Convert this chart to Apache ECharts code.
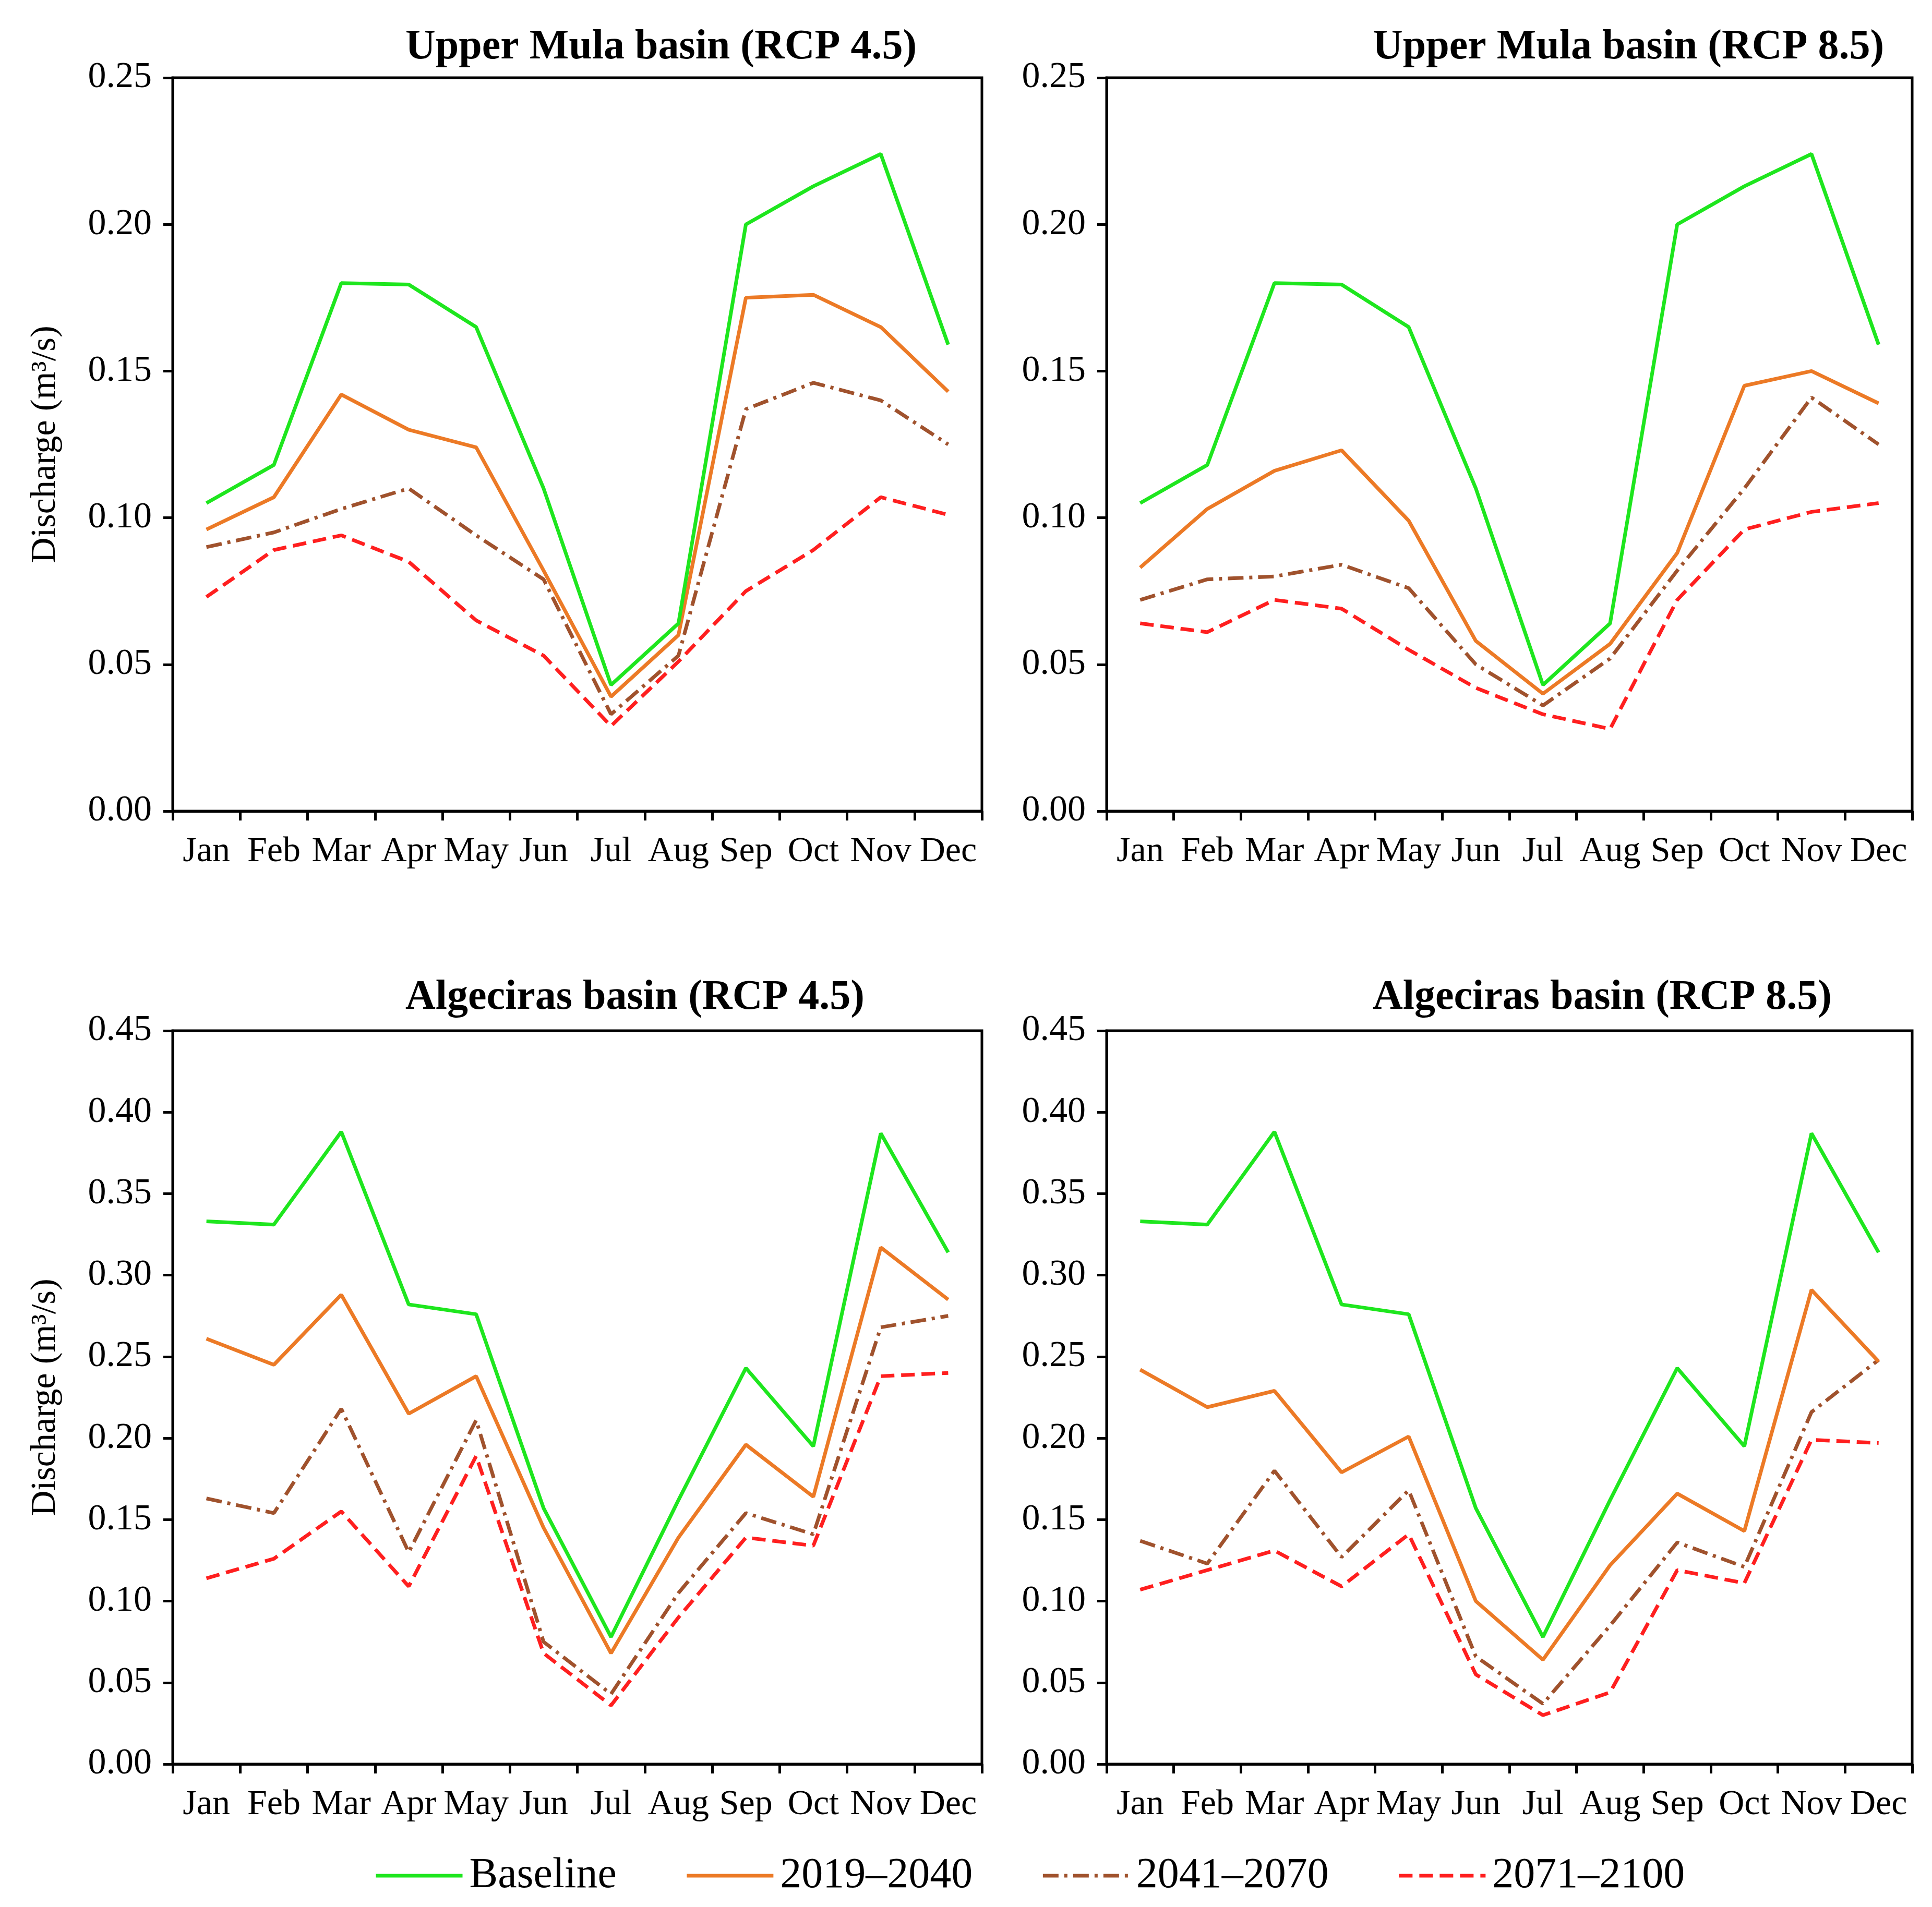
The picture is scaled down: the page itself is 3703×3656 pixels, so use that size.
<!DOCTYPE html>
<html>
<head>
<meta charset="utf-8">
<script src="https://cdn.jsdelivr.net/npm/echarts@6/dist/echarts.min.js"></script>
<style>
html,body{margin:0;padding:0;background:#fff;}
#chart{width:3703px;height:3656px;}
</style>
</head>
<body>
<div id="chart"></div>
<script>
const months = ['Jan','Feb','Mar','Apr','May','Jun','Jul','Aug','Sep','Oct','Nov','Dec'];
const seriesNames = ['Baseline','2019\u20132040','2041\u20132070','2071\u20132100'];
const panelTitles = ['Upper Mula basin (RCP 4.5)','Upper Mula basin (RCP 8.5)','Algeciras basin (RCP 4.5)','Algeciras basin (RCP 8.5)'];
const mulaTicks = [0, 0.25, 0.05];
const algeTicks = [0, 0.45, 0.05];

// Upper Mula basin
const mulaBaseline   = [0.105,0.118,0.180,0.1795,0.165,0.110,0.043,0.064,0.200,0.213,0.224,0.159];
const mula45_2019    = [0.096,0.107,0.142,0.130,0.124,0.082,0.039,0.060,0.175,0.176,0.165,0.143];
const mula45_2041    = [0.090,0.095,0.103,0.110,0.094,0.079,0.033,0.053,0.137,0.146,0.140,0.125];
const mula45_2071    = [0.073,0.089,0.094,0.085,0.065,0.053,0.029,0.051,0.075,0.089,0.107,0.101];
const mula85_2019    = [0.083,0.103,0.116,0.123,0.099,0.058,0.040,0.057,0.088,0.145,0.150,0.139];
const mula85_2041    = [0.072,0.079,0.080,0.084,0.076,0.050,0.036,0.052,0.082,0.110,0.141,0.125];
const mula85_2071    = [0.064,0.061,0.072,0.069,0.055,0.042,0.033,0.028,0.072,0.096,0.102,0.105];

// Algeciras basin
const algeBaseline   = [0.333,0.331,0.388,0.282,0.276,0.157,0.078,0.162,0.243,0.195,0.387,0.314];
const alge45_2019    = [0.261,0.245,0.288,0.215,0.238,0.145,0.068,0.139,0.196,0.164,0.317,0.285];
const alge45_2041    = [0.163,0.154,0.218,0.130,0.211,0.075,0.043,0.105,0.154,0.141,0.268,0.275];
const alge45_2071    = [0.114,0.126,0.155,0.109,0.189,0.068,0.036,0.090,0.139,0.134,0.238,0.240];
const alge85_2019    = [0.242,0.219,0.229,0.179,0.201,0.100,0.064,0.122,0.166,0.143,0.291,0.247];
const alge85_2041    = [0.137,0.123,0.180,0.127,0.168,0.066,0.037,0.085,0.136,0.121,0.216,0.248];
const alge85_2071    = [0.107,0.119,0.131,0.109,0.141,0.055,0.030,0.044,0.119,0.111,0.199,0.197];

const panelData = [
  [mulaBaseline, mula45_2019, mula45_2041, mula45_2071],
  [mulaBaseline, mula85_2019, mula85_2041, mula85_2071],
  [algeBaseline, alge45_2019, alge45_2041, alge45_2071],
  [algeBaseline, alge85_2019, alge85_2041, alge85_2071]
];
const panelTicks = [mulaTicks, mulaTicks, algeTicks, algeTicks];

const FONT = '"Liberation Serif","Times New Roman",serif';
const colors = ['#1ee61e','#ec7a26','#a0522d','#ff1f1f'];
const lineTypes = ['solid','solid',[30,11,6,11],[26,13]];

const grids = [
  {left:331, top:149, width:1551, height:1406},
  {left:2121, top:149, width:1544, height:1406},
  {left:331, top:1976, width:1551, height:1406},
  {left:2121, top:1976, width:1544, height:1406}
];
const titlePos = [[772,46],[2626,46],[772,1868],[2626,1868]];

const option = {
  backgroundColor:'#ffffff',
  animation:false,
  title: panelTitles.map((t,i)=>({
    text:t, left:titlePos[i][0], top:titlePos[i][1],
    textStyle:{fontFamily:FONT, fontWeight:'bold', fontSize:80, color:'#000'}
  })),
  legend:{
    data:seriesNames,
    left:712, top:3550,
    itemWidth:166, itemHeight:12, itemGap:131,
    itemStyle:{opacity:0},
    lineStyle:{width:7},
    textStyle:{fontFamily:FONT, fontSize:82, color:'#000', padding:[0,0,0,8]}
  },
  grid: grids.map(g=>Object.assign({show:true, borderColor:'#000', borderWidth:5, backgroundColor:'transparent'}, g)),
  xAxis: grids.map((g,i)=>({
    type:'category', gridIndex:i, data:months, boundaryGap:true,
    axisLine:{show:true, lineStyle:{color:'#000', width:5}},
    axisTick:{show:true, inside:false, length:18, lineStyle:{color:'#000', width:5}, alignWithLabel:false},
    axisLabel:{fontFamily:FONT, fontSize:68, color:'#000', margin:44, interval:0},
    splitLine:{show:false}
  })),
  yAxis: grids.map((g,i)=>({
    type:'value', gridIndex:i, min:panelTicks[i][0], max:panelTicks[i][1], interval:panelTicks[i][2],
    name:(i%2===0)?'Discharge (m\u00b3/s)':'', nameLocation:'middle', nameGap:210, nameRotate:90,
    nameTextStyle:{fontFamily:FONT, fontSize:68, color:'#000'},
    axisLine:{show:true, lineStyle:{color:'#000', width:5}},
    axisTick:{show:true, inside:false, length:18, lineStyle:{color:'#000', width:5}},
    axisLabel:{fontFamily:FONT, fontSize:70, color:'#000', margin:40, formatter:v=>v.toFixed(2)},
    splitLine:{show:false}
  })),
  series: []
};

panelData.forEach((arrs,p)=>{
  arrs.forEach((vals,s)=>{
    option.series.push({
      name:seriesNames[s], type:'line', xAxisIndex:p, yAxisIndex:p,
      data:vals, symbol:'none', smooth:false,
      itemStyle:{color:colors[s]},
      lineStyle:{color:colors[s], width:7, type:lineTypes[s]},
      z: 10 - s
    });
  });
});

const chart = echarts.init(document.getElementById('chart'), null, {renderer:'canvas'});
chart.setOption(option);
</script>
</body>
</html>
